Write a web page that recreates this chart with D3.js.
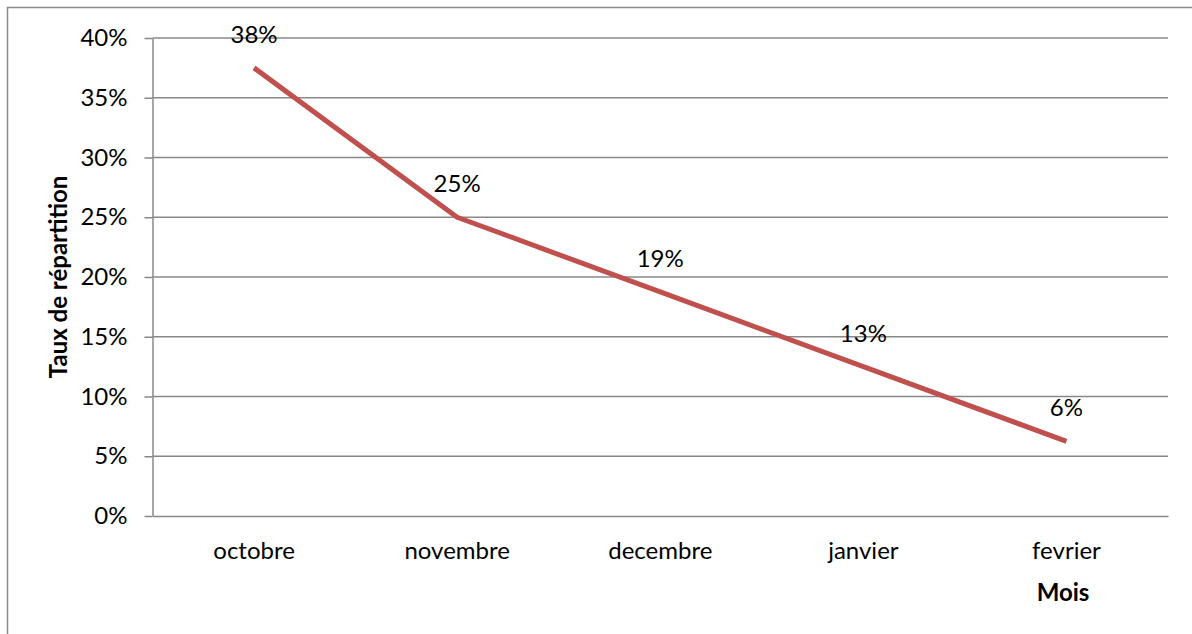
<!DOCTYPE html>
<html>
<head>
<meta charset="utf-8">
<script src="https://cdn.jsdelivr.net/npm/d3@7/dist/d3.min.js"></script>
<style>
  html, body { margin: 0; padding: 0; background: #fff; }
  svg { display: block; }
  text { font-family: Lato, "Open Sans", sans-serif; fill: #000; }
</style>
</head>
<body>
<svg id="chart" width="1192" height="634"></svg>
<script>
// Monthly distribution rate
const months = ["octobre", "novembre", "decembre", "janvier", "fevrier"];
const rates = [0.375, 0.25, 0.1875, 0.125, 0.0625];
const yTicks = [0, 0.05, 0.10, 0.15, 0.20, 0.25, 0.30, 0.35, 0.40];
const yTitle = "Taux de répartition";
const xTitle = "Mois";

const svg = d3.select("#chart");
const W = 1192, H = 634;
const plot = { left: 152.5, right: 1168, top: 38, bottom: 516 };
const FONT = 24;

// outer frame (extends past the right and bottom edges)
svg.append("rect")
  .attr("x", 7.5).attr("y", 7.5)
  .attr("width", W + 10).attr("height", H + 10)
  .attr("fill", "none").attr("stroke", "#8a8a8a").attr("stroke-width", 1.5);

const x = d3.scaleBand().domain(months).range([plot.left, plot.right]);
const y = d3.scaleLinear().domain([0, 0.40]).range([plot.bottom, plot.top]);

// horizontal gridlines
svg.append("g")
  .selectAll("line")
  .data(yTicks.filter(d => d > 0))
  .join("line")
  .attr("x1", plot.left).attr("x2", plot.right)
  .attr("y1", d => y(d)).attr("y2", d => y(d))
  .attr("stroke", "#888").attr("stroke-width", 1.5);

// y axis
const yAxis = svg.append("g")
  .attr("transform", `translate(${plot.left},0)`)
  .call(d3.axisLeft(y).tickValues(yTicks).tickFormat(d3.format(".0%")).tickSizeInner(8).tickSizeOuter(0).tickPadding(17));
yAxis.select(".domain").attr("stroke", "#888").attr("stroke-width", 1.5);
yAxis.selectAll(".tick line").attr("stroke", "#888").attr("stroke-width", 1.5);
yAxis.selectAll(".tick text").attr("font-size", FONT).style("font-family", "Lato, 'Open Sans', sans-serif").attr("fill", "#000");

// x axis
const xAxis = svg.append("g")
  .attr("transform", `translate(0,${plot.bottom})`)
  .call(d3.axisBottom(x).tickSize(0).tickPadding(26));
xAxis.select(".domain").attr("stroke", "#888").attr("stroke-width", 1.5);
xAxis.selectAll(".tick text").attr("font-size", FONT).style("font-family", "Lato, 'Open Sans', sans-serif").attr("fill", "#000");

const cx = d => x(d) + x.bandwidth() / 2;

// series line
const line = d3.line()
  .x((d, i) => cx(months[i]))
  .y(d => y(d));
svg.append("path")
  .datum(rates)
  .attr("d", line)
  .attr("fill", "none")
  .attr("stroke", "#c0504d")
  .attr("stroke-width", 5)
  .attr("stroke-linejoin", "round");

// value labels
svg.append("g")
  .selectAll("text")
  .data(rates)
  .join("text")
  .attr("x", (d, i) => cx(months[i]))
  .attr("y", d => y(d) - 25)
  .attr("text-anchor", "middle")
  .attr("font-size", FONT)
  .text(d => d3.format(".0%")(d));

// axis titles
svg.append("text")
  .attr("x", 1063)
  .attr("y", 601)
  .attr("text-anchor", "middle")
  .attr("font-size", FONT)
  .attr("font-weight", "bold")
  .text(xTitle);

svg.append("text")
  .attr("transform", `translate(67,${(plot.top + plot.bottom) / 2}) rotate(-90)`)
  .attr("text-anchor", "middle")
  .attr("font-size", FONT)
  .attr("font-weight", "bold")
  .text(yTitle);
</script>
</body>
</html>
